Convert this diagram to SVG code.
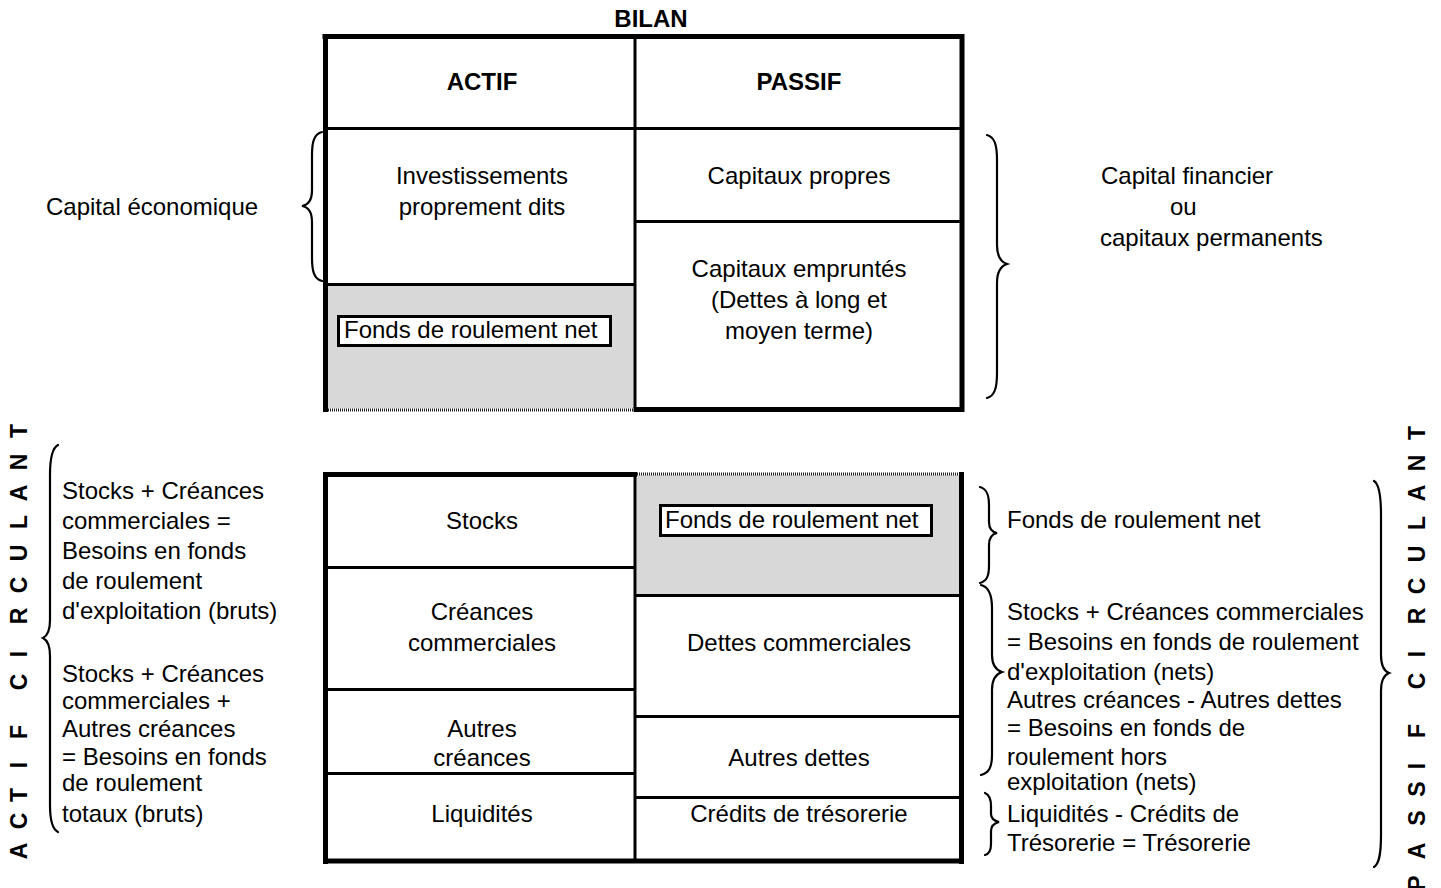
<svg xmlns="http://www.w3.org/2000/svg" width="1441" height="888" viewBox="0 0 1441 888">
<style>
text{font-family:"Liberation Sans",Arial,sans-serif;font-size:24px;fill:#000}
.c{text-anchor:middle}
.b{font-weight:bold}
.v{font-weight:bold;font-size:23px;text-anchor:middle}
.frame{stroke:#000;stroke-width:5;fill:none}
.ln{stroke:#000;stroke-width:3;fill:none}
.gray{fill:#d8d8d8}
.dot{stroke:#222;stroke-width:3;stroke-dasharray:1 1;fill:none}
.box{fill:#fff;stroke:#000;stroke-width:3}
.br{fill:none;stroke:#000;stroke-width:2.2;stroke-linecap:round}
</style>
<rect x="0" y="0" width="1441" height="888" fill="#fff"/>

<g id="titre">
<text class="c b" x="651" y="27">BILAN</text>
</g>

<g id="bilan-haut">
<rect class="gray" x="328" y="285.5" width="305.5" height="123"/>
<path class="dot" d="M328 410 H633"/>
<path class="ln" d="M635 38 V408 M328 128.5 H960 M328 284.5 H634 M636 221.5 H960"/>
<path class="frame" d="M322.5 36.5 H964.5 M325.5 34 V412 M962 34 V412 M633.5 409.5 H964.5"/>
</g>

<g id="actif-entete"><text class="c b" x="482" y="90">ACTIF</text></g>
<g id="passif-entete"><text class="c b" x="799" y="90">PASSIF</text></g>
<g id="investissements"><text class="c" x="482" y="184">Investissements</text><text class="c" x="482" y="215">proprement dits</text></g>
<g id="frn-haut"><rect class="box" x="338.5" y="316.5" width="272" height="29"/><text x="344" y="338">Fonds de roulement net</text></g>
<g id="capitaux-propres"><text class="c" x="799" y="184">Capitaux propres</text></g>
<g id="capitaux-empruntes"><text class="c" x="799" y="277">Capitaux empruntés</text><text class="c" x="799" y="308">(Dettes à long et</text><text class="c" x="799" y="339">moyen terme)</text></g>
<g id="capital-economique"><text x="46" y="215">Capital économique</text></g>
<g id="capital-financier"><text x="1101" y="184">Capital financier</text><text x="1170" y="215">ou</text><text x="1100" y="246">capitaux permanents</text></g>

<g id="bilan-bas">
<rect class="gray" x="636.5" y="475" width="323" height="119"/>
<path class="dot" d="M637 474 H959"/>
<path class="ln" d="M635 476 V859 M328 567.5 H634 M328 689.5 H634 M328 773.5 H634 M636 595.5 H959 M636 716.5 H959 M636 797.5 H959"/>
<path class="frame" d="M325.5 472 V864 M323 474.5 H637 M961.5 472 V864 M323 861 H964"/>
</g>

<g id="stocks"><text class="c" x="482" y="529">Stocks</text></g>
<g id="creances-commerciales"><text class="c" x="482" y="620">Créances</text><text class="c" x="482" y="651">commerciales</text></g>
<g id="autres-creances"><text class="c" x="482" y="737">Autres</text><text class="c" x="482" y="766">créances</text></g>
<g id="liquidites"><text class="c" x="482" y="822">Liquidités</text></g>
<g id="frn-bas"><rect class="box" x="660.5" y="505.5" width="271" height="30"/><text x="665" y="528">Fonds de roulement net</text></g>
<g id="dettes-commerciales"><text class="c" x="799" y="651">Dettes commerciales</text></g>
<g id="autres-dettes"><text class="c" x="799" y="766">Autres dettes</text></g>
<g id="credits-tresorerie"><text class="c" x="799" y="822">Crédits de trésorerie</text></g>

<g id="texte-gauche">
<text x="62" y="499">Stocks + Créances</text>
<text x="62" y="529">commerciales =</text>
<text x="62" y="559">Besoins en fonds</text>
<text x="62" y="589">de roulement</text>
<text x="62" y="619">d'exploitation (bruts)</text>
<text x="62" y="682">Stocks + Créances</text>
<text x="62" y="709">commerciales +</text>
<text x="62" y="737">Autres créances</text>
<text x="62" y="765">= Besoins en fonds</text>
<text x="62" y="791">de roulement</text>
<text x="62" y="822">totaux (bruts)</text>
</g>

<g id="texte-droite">
<text x="1007" y="528">Fonds de roulement net</text>
<text x="1007" y="620">Stocks + Créances commerciales</text>
<text x="1007" y="650">= Besoins en fonds de roulement</text>
<text x="1007" y="680">d'exploitation (nets)</text>
<text x="1007" y="708">Autres créances - Autres dettes</text>
<text x="1007" y="736">= Besoins en fonds de</text>
<text x="1007" y="765">roulement hors</text>
<text x="1007" y="790">exploitation (nets)</text>
<text x="1007" y="822">Liquidités - Crédits de</text>
<text x="1007" y="851">Trésorerie = Trésorerie</text>
</g>

<g id="actif-circulant">
<text class="v" transform="translate(27,0) rotate(-90)" x="-851 -821 -795 -765 -732 -682 -654 -616 -585 -553 -522 -493 -462 -431" y="0">ACTIFCIRCULANT</text>
</g>
<g id="passif-circulant">
<text class="v" transform="translate(1425,0) rotate(-90)" x="-883 -851 -818 -789 -766 -731 -681 -654 -616 -586 -554 -523 -493 -463 -433" y="0">PASSIFCIRCULANT</text>
</g>

<g id="connectors">
<path class="br" d="M322 132 C314 134 312 142 312 155 L312 190 C312 200 308 205 302 206 C308 207 312 212 312 222 L312 258 C312 271 314 279 322 281"/>
<path class="br" d="M987 135 C995 137 997 146 997 160 L997 245 C997 256 1001 262 1007 264 C1001 266 997 272 997 283 L997 373 C997 387 995 396 987 398"/>
<path class="br" d="M58 445 C52 448 50 458 50 475 L50 620 C50 630 47 636 43 638 C47 640 50 646 50 656 L50 805 C50 820 52 829 58 832"/>
<path class="br" d="M980 487 C987 489 989 495 989 505 L989 522 C989 529 992 532 997 533 C992 534 989 538 989 545 L989 565 C989 576 987 581 980 583"/>
<path class="br" d="M981 585 C989 587 992 595 992 608 L992 655 C992 665 996 670 1002 672 C996 674 992 679 992 690 L992 755 C992 767 989 773 981 775"/>
<path class="br" d="M985 793 C990 795 991 800 991 806 L991 814 C991 819 995 821 999 822 C995 823 991 825 991 831 L991 844 C991 850 989 854 985 855"/>
<path class="br" d="M1374 481 C1379 484 1381 495 1381 515 L1381 655 C1381 666 1384 671 1389 673 C1384 675 1381 680 1381 691 L1381 835 C1381 855 1379 864 1374 867"/>
</g>
</svg>
